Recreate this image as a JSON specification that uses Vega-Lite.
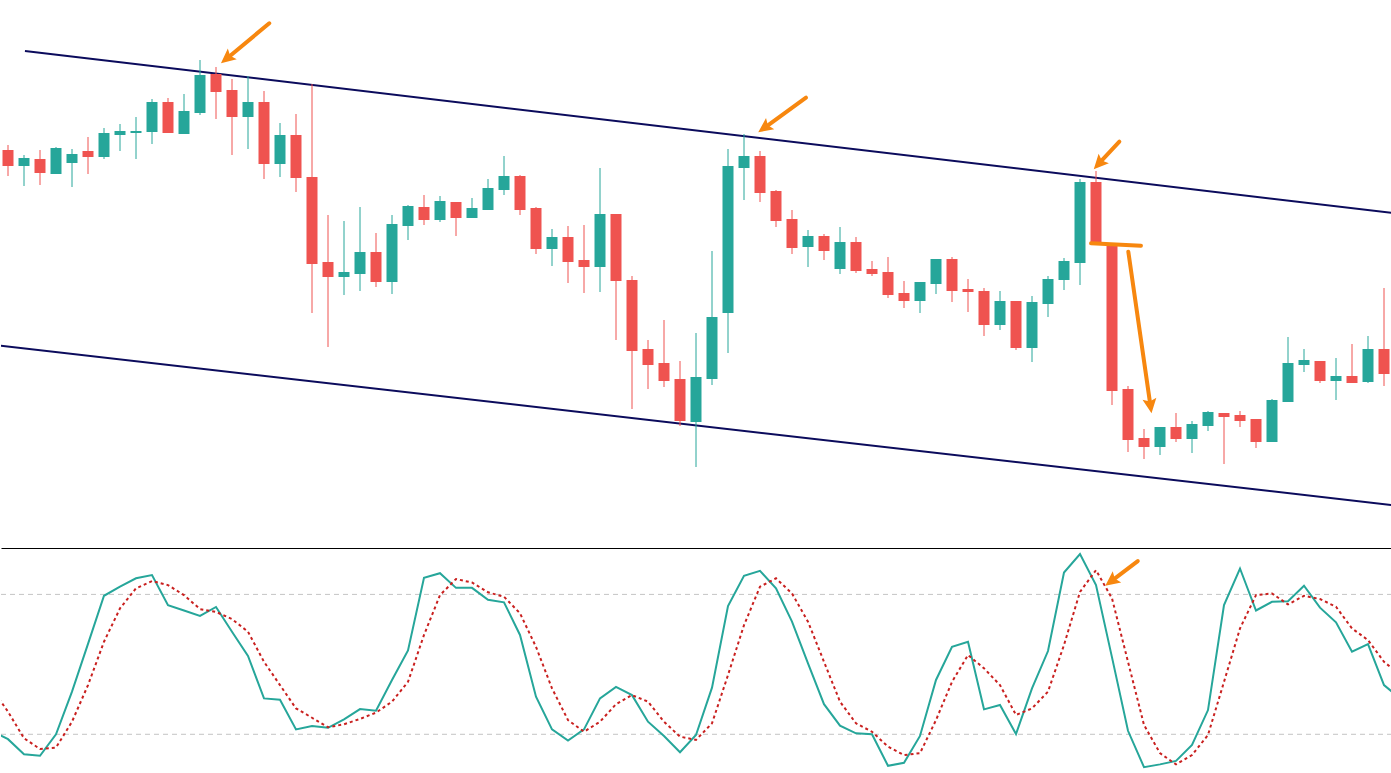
{
  "$schema": "https://vega.github.io/schema/vega-lite/v6.json",
  "description": "Descending channel with candlesticks and stochastic oscillator",
  "background": "white",
  "padding": 0,
  "spacing": 0,
  "config": {"view": {"stroke": null}},
  "datasets": {
    "candles": [
      {"i": 0, "open": 1.1850, "high": 1.1855, "low": 1.1824, "close": 1.1834},
      {"i": 1, "open": 1.1834, "high": 1.1845, "low": 1.1814, "close": 1.1842},
      {"i": 2, "open": 1.1841, "high": 1.1850, "low": 1.1815, "close": 1.1827},
      {"i": 3, "open": 1.1826, "high": 1.1853, "low": 1.1826, "close": 1.1852},
      {"i": 4, "open": 1.1837, "high": 1.1851, "low": 1.1813, "close": 1.1846},
      {"i": 5, "open": 1.1849, "high": 1.1863, "low": 1.1826, "close": 1.1843},
      {"i": 6, "open": 1.1843, "high": 1.1872, "low": 1.1841, "close": 1.1867},
      {"i": 7, "open": 1.1865, "high": 1.1876, "low": 1.1849, "close": 1.1869},
      {"i": 8, "open": 1.1867, "high": 1.1883, "low": 1.1841, "close": 1.1869},
      {"i": 9, "open": 1.1868, "high": 1.1901, "low": 1.1856, "close": 1.1898},
      {"i": 10, "open": 1.1898, "high": 1.1902, "low": 1.1867, "close": 1.1867},
      {"i": 11, "open": 1.1866, "high": 1.1906, "low": 1.1866, "close": 1.1889},
      {"i": 12, "open": 1.1887, "high": 1.1940, "low": 1.1885, "close": 1.1925},
      {"i": 13, "open": 1.1926, "high": 1.1933, "low": 1.1881, "close": 1.1908},
      {"i": 14, "open": 1.1910, "high": 1.1921, "low": 1.1845, "close": 1.1883},
      {"i": 15, "open": 1.1883, "high": 1.1924, "low": 1.1851, "close": 1.1898},
      {"i": 16, "open": 1.1898, "high": 1.1909, "low": 1.1821, "close": 1.1836},
      {"i": 17, "open": 1.1836, "high": 1.1877, "low": 1.1823, "close": 1.1865},
      {"i": 18, "open": 1.1865, "high": 1.1886, "low": 1.1808, "close": 1.1822},
      {"i": 19, "open": 1.1823, "high": 1.1916, "low": 1.1687, "close": 1.1736},
      {"i": 20, "open": 1.1738, "high": 1.1785, "low": 1.1653, "close": 1.1723},
      {"i": 21, "open": 1.1723, "high": 1.1779, "low": 1.1705, "close": 1.1728},
      {"i": 22, "open": 1.1726, "high": 1.1793, "low": 1.1709, "close": 1.1748},
      {"i": 23, "open": 1.1748, "high": 1.1767, "low": 1.1713, "close": 1.1718},
      {"i": 24, "open": 1.1718, "high": 1.1785, "low": 1.1706, "close": 1.1776},
      {"i": 25, "open": 1.1774, "high": 1.1795, "low": 1.1760, "close": 1.1794},
      {"i": 26, "open": 1.1793, "high": 1.1805, "low": 1.1775, "close": 1.1780},
      {"i": 27, "open": 1.1780, "high": 1.1804, "low": 1.1778, "close": 1.1799},
      {"i": 28, "open": 1.1798, "high": 1.1798, "low": 1.1764, "close": 1.1782},
      {"i": 29, "open": 1.1782, "high": 1.1802, "low": 1.1782, "close": 1.1792},
      {"i": 30, "open": 1.1790, "high": 1.1821, "low": 1.1790, "close": 1.1812},
      {"i": 31, "open": 1.1810, "high": 1.1844, "low": 1.1805, "close": 1.1824},
      {"i": 32, "open": 1.1824, "high": 1.1825, "low": 1.1785, "close": 1.1790},
      {"i": 33, "open": 1.1792, "high": 1.1793, "low": 1.1746, "close": 1.1751},
      {"i": 34, "open": 1.1751, "high": 1.1771, "low": 1.1734, "close": 1.1763},
      {"i": 35, "open": 1.1763, "high": 1.1774, "low": 1.1717, "close": 1.1738},
      {"i": 36, "open": 1.1740, "high": 1.1775, "low": 1.1707, "close": 1.1733},
      {"i": 37, "open": 1.1733, "high": 1.1832, "low": 1.1708, "close": 1.1786},
      {"i": 38, "open": 1.1786, "high": 1.1786, "low": 1.1660, "close": 1.1719},
      {"i": 39, "open": 1.1720, "high": 1.1724, "low": 1.1591, "close": 1.1649},
      {"i": 40, "open": 1.1651, "high": 1.1660, "low": 1.1611, "close": 1.1635},
      {"i": 41, "open": 1.1637, "high": 1.1680, "low": 1.1613, "close": 1.1619},
      {"i": 42, "open": 1.1621, "high": 1.1639, "low": 1.1574, "close": 1.1579},
      {"i": 43, "open": 1.1578, "high": 1.1667, "low": 1.1533, "close": 1.1623},
      {"i": 44, "open": 1.1621, "high": 1.1749, "low": 1.1615, "close": 1.1683},
      {"i": 45, "open": 1.1687, "high": 1.1851, "low": 1.1647, "close": 1.1834},
      {"i": 46, "open": 1.1832, "high": 1.1866, "low": 1.1800, "close": 1.1844},
      {"i": 47, "open": 1.1844, "high": 1.1849, "low": 1.1798, "close": 1.1807},
      {"i": 48, "open": 1.1809, "high": 1.1810, "low": 1.1773, "close": 1.1779},
      {"i": 49, "open": 1.1781, "high": 1.1790, "low": 1.1746, "close": 1.1752},
      {"i": 50, "open": 1.1753, "high": 1.1770, "low": 1.1733, "close": 1.1764},
      {"i": 51, "open": 1.1764, "high": 1.1766, "low": 1.1740, "close": 1.1749},
      {"i": 52, "open": 1.1731, "high": 1.1773, "low": 1.1726, "close": 1.1758},
      {"i": 53, "open": 1.1758, "high": 1.1763, "low": 1.1727, "close": 1.1729},
      {"i": 54, "open": 1.1731, "high": 1.1739, "low": 1.1724, "close": 1.1726},
      {"i": 55, "open": 1.1728, "high": 1.1743, "low": 1.1702, "close": 1.1705},
      {"i": 56, "open": 1.1707, "high": 1.1719, "low": 1.1692, "close": 1.1699},
      {"i": 57, "open": 1.1699, "high": 1.1718, "low": 1.1687, "close": 1.1718},
      {"i": 58, "open": 1.1716, "high": 1.1741, "low": 1.1706, "close": 1.1741},
      {"i": 59, "open": 1.1741, "high": 1.1743, "low": 1.1698, "close": 1.1709},
      {"i": 60, "open": 1.1711, "high": 1.1721, "low": 1.1688, "close": 1.1708},
      {"i": 61, "open": 1.1709, "high": 1.1712, "low": 1.1664, "close": 1.1675},
      {"i": 62, "open": 1.1675, "high": 1.1709, "low": 1.1670, "close": 1.1699},
      {"i": 63, "open": 1.1699, "high": 1.1699, "low": 1.1650, "close": 1.1652},
      {"i": 64, "open": 1.1652, "high": 1.1704, "low": 1.1638, "close": 1.1698},
      {"i": 65, "open": 1.1696, "high": 1.1724, "low": 1.1683, "close": 1.1721},
      {"i": 66, "open": 1.1720, "high": 1.1742, "low": 1.1710, "close": 1.1739},
      {"i": 67, "open": 1.1737, "high": 1.1821, "low": 1.1715, "close": 1.1818},
      {"i": 68, "open": 1.1818, "high": 1.1829, "low": 1.1758, "close": 1.1758},
      {"i": 69, "open": 1.1755, "high": 1.1755, "low": 1.1595, "close": 1.1609},
      {"i": 70, "open": 1.1611, "high": 1.1614, "low": 1.1548, "close": 1.1560},
      {"i": 71, "open": 1.1562, "high": 1.1571, "low": 1.1541, "close": 1.1553},
      {"i": 72, "open": 1.1553, "high": 1.1573, "low": 1.1545, "close": 1.1573},
      {"i": 73, "open": 1.1573, "high": 1.1587, "low": 1.1558, "close": 1.1561},
      {"i": 74, "open": 1.1561, "high": 1.1579, "low": 1.1547, "close": 1.1576},
      {"i": 75, "open": 1.1574, "high": 1.1589, "low": 1.1569, "close": 1.1588},
      {"i": 76, "open": 1.1587, "high": 1.1587, "low": 1.1536, "close": 1.1583},
      {"i": 77, "open": 1.1585, "high": 1.1589, "low": 1.1573, "close": 1.1579},
      {"i": 78, "open": 1.1581, "high": 1.1581, "low": 1.1552, "close": 1.1558},
      {"i": 79, "open": 1.1558, "high": 1.1601, "low": 1.1558, "close": 1.1600},
      {"i": 80, "open": 1.1598, "high": 1.1663, "low": 1.1598, "close": 1.1637},
      {"i": 81, "open": 1.1635, "high": 1.1651, "low": 1.1628, "close": 1.1640},
      {"i": 82, "open": 1.1639, "high": 1.1639, "low": 1.1617, "close": 1.1619},
      {"i": 83, "open": 1.1619, "high": 1.1642, "low": 1.1600, "close": 1.1624},
      {"i": 84, "open": 1.1624, "high": 1.1656, "low": 1.1617, "close": 1.1617},
      {"i": 85, "open": 1.1618, "high": 1.1664, "low": 1.1617, "close": 1.1651},
      {"i": 86, "open": 1.1651, "high": 1.1712, "low": 1.1614, "close": 1.1626}
    ],
    "channel": [
      {"line": "upper", "i": 1.06, "p": 1.1949},
      {"line": "upper", "i": 87, "p": 1.17862},
      {"line": "lower", "i": -1, "p": 1.16553},
      {"line": "lower", "i": 87, "p": 1.1494}
    ],
    "arrows": [
      {"id": "a1", "i": 16.33, "p": 1.19767},
      {"id": "a1", "i": 13.70, "p": 1.19418},
      {"id": "a2", "i": 49.875, "p": 1.19023},
      {"id": "a2", "i": 47.30, "p": 1.18724},
      {"id": "a3", "i": 69.46, "p": 1.18583},
      {"id": "a3", "i": 68.19, "p": 1.18366},
      {"id": "a5", "i": 70.02, "p": 1.17483},
      {"id": "a5", "i": 71.40, "p": 1.15946}
    ],
    "breakLine": [
      {"i": 67.69, "p": 1.17567},
      {"i": 70.81, "p": 1.17543}
    ],
    "heads": [
      {"id": "a1", "i": 13.31, "p": 1.19367},
      {"id": "a2", "i": 46.89, "p": 1.18677},
      {"id": "a3", "i": 67.86, "p": 1.18307},
      {"id": "a5", "i": 71.47, "p": 1.15867}
    ],
    "stoch": [
      {"i": -1, "k": 21.4, "d": 39.5},
      {"i": 0, "k": 17.9, "d": 29.7},
      {"i": 1, "k": 11.4, "d": 18.3},
      {"i": 2, "k": 10.8, "d": 13.7},
      {"i": 3, "k": 20.0, "d": 14.3},
      {"i": 4, "k": 38.3, "d": 25.4},
      {"i": 5, "k": 58.8, "d": 41.1},
      {"i": 6, "k": 79.4, "d": 59.7},
      {"i": 7, "k": 83.3, "d": 74.0},
      {"i": 8, "k": 86.9, "d": 82.6},
      {"i": 9, "k": 88.3, "d": 85.7},
      {"i": 10, "k": 75.4, "d": 84.0},
      {"i": 11, "k": 73.1, "d": 79.7},
      {"i": 12, "k": 70.8, "d": 73.7},
      {"i": 13, "k": 74.6, "d": 72.5},
      {"i": 14, "k": 64.0, "d": 69.4},
      {"i": 15, "k": 53.6, "d": 64.0},
      {"i": 16, "k": 35.4, "d": 51.1},
      {"i": 17, "k": 34.8, "d": 41.1},
      {"i": 18, "k": 22.1, "d": 31.1},
      {"i": 19, "k": 23.6, "d": 27.1},
      {"i": 20, "k": 22.8, "d": 23.0},
      {"i": 21, "k": 26.4, "d": 24.3},
      {"i": 22, "k": 30.8, "d": 26.6},
      {"i": 23, "k": 30.1, "d": 29.3},
      {"i": 24, "k": 43.3, "d": 34.0},
      {"i": 25, "k": 56.0, "d": 42.5},
      {"i": 26, "k": 87.1, "d": 62.6},
      {"i": 27, "k": 89.1, "d": 79.7},
      {"i": 28, "k": 82.8, "d": 86.6},
      {"i": 29, "k": 82.8, "d": 85.1},
      {"i": 30, "k": 77.7, "d": 80.9},
      {"i": 31, "k": 76.6, "d": 79.0},
      {"i": 32, "k": 62.6, "d": 71.9},
      {"i": 33, "k": 36.1, "d": 57.5},
      {"i": 34, "k": 22.1, "d": 39.7},
      {"i": 35, "k": 17.3, "d": 26.1},
      {"i": 36, "k": 22.1, "d": 21.1},
      {"i": 37, "k": 35.4, "d": 25.4},
      {"i": 38, "k": 40.3, "d": 32.9},
      {"i": 39, "k": 36.8, "d": 36.8},
      {"i": 40, "k": 25.4, "d": 34.0},
      {"i": 41, "k": 19.3, "d": 25.4},
      {"i": 42, "k": 12.3, "d": 19.0},
      {"i": 43, "k": 19.7, "d": 17.6},
      {"i": 44, "k": 40.0, "d": 24.7},
      {"i": 45, "k": 75.0, "d": 45.4},
      {"i": 46, "k": 88.0, "d": 66.8},
      {"i": 47, "k": 90.1, "d": 83.3},
      {"i": 48, "k": 82.6, "d": 86.9},
      {"i": 49, "k": 68.3, "d": 80.4},
      {"i": 50, "k": 50.4, "d": 68.3},
      {"i": 51, "k": 32.9, "d": 51.1},
      {"i": 52, "k": 23.7, "d": 34.0},
      {"i": 53, "k": 20.4, "d": 24.7},
      {"i": 54, "k": 20.0, "d": 21.1},
      {"i": 55, "k": 6.5, "d": 14.7},
      {"i": 56, "k": 7.8, "d": 11.1},
      {"i": 57, "k": 19.3, "d": 11.9},
      {"i": 58, "k": 43.3, "d": 26.1},
      {"i": 59, "k": 57.5, "d": 42.5},
      {"i": 60, "k": 59.7, "d": 54.0},
      {"i": 61, "k": 30.7, "d": 48.3},
      {"i": 62, "k": 32.6, "d": 41.1},
      {"i": 63, "k": 20.1, "d": 28.3},
      {"i": 64, "k": 39.7, "d": 31.1},
      {"i": 65, "k": 55.7, "d": 38.3},
      {"i": 66, "k": 89.4, "d": 58.3},
      {"i": 67, "k": 97.3, "d": 81.1},
      {"i": 68, "k": 84.0, "d": 90.4},
      {"i": 69, "k": 53.0, "d": 78.3},
      {"i": 70, "k": 21.5, "d": 51.1},
      {"i": 71, "k": 5.9, "d": 24.0},
      {"i": 72, "k": 7.1, "d": 11.9},
      {"i": 73, "k": 8.6, "d": 7.1},
      {"i": 74, "k": 15.4, "d": 11.1},
      {"i": 75, "k": 30.4, "d": 19.7},
      {"i": 76, "k": 75.4, "d": 42.5},
      {"i": 77, "k": 91.1, "d": 65.4},
      {"i": 78, "k": 73.1, "d": 79.7},
      {"i": 79, "k": 76.8, "d": 80.4},
      {"i": 80, "k": 77.1, "d": 75.7},
      {"i": 81, "k": 83.7, "d": 79.4},
      {"i": 82, "k": 74.3, "d": 78.0},
      {"i": 83, "k": 68.0, "d": 74.7},
      {"i": 84, "k": 55.4, "d": 65.4},
      {"i": 85, "k": 58.7, "d": 60.4},
      {"i": 86, "k": 41.1, "d": 51.1},
      {"i": 87, "k": 35.4, "d": 45.5}
    ],
    "levels": [{"lvl": 80}, {"lvl": 20}],
    "stochArrow": [
      {"i": 70.61, "v": 94.3},
      {"i": 68.98, "v": 85.8}
    ],
    "stochHead": [{"i": 68.58, "v": 83.7}]
  },
  "vconcat": [
    {
      "width": 1391,
      "height": 548,
      "layer": [
        {
          "data": {"name": "channel"},
          "mark": {"type": "line", "color": "#0b0b5c", "strokeWidth": 2, "clip": true},
          "encoding": {
            "x": {"field": "i", "type": "quantitative", "scale": {"domain": [-0.4375, 86.5], "nice": false, "zero": false, "padding": 0},
                  "axis": {"orient": "bottom", "domain": true, "domainColor": "#000000", "domainWidth": 1.2, "labels": false, "ticks": false, "grid": false, "title": null}},
            "y": {"field": "p", "type": "quantitative", "scale": {"domain": [1.1452, 1.2], "nice": false, "zero": false, "padding": 0}, "axis": null},
            "detail": {"field": "line"}
          }
        },
        {
          "data": {"name": "candles"},
          "mark": {"type": "rule", "strokeWidth": 1},
          "encoding": {
            "x": {"field": "i", "type": "quantitative"},
            "y": {"field": "low", "type": "quantitative"},
            "y2": {"field": "high"},
            "color": {"condition": {"test": "datum.open < datum.close", "value": "#26a69a"}, "value": "#ef5350"}
          }
        },
        {
          "data": {"name": "candles"},
          "mark": {"type": "bar", "width": 11},
          "encoding": {
            "x": {"field": "i", "type": "quantitative"},
            "y": {"field": "open", "type": "quantitative"},
            "y2": {"field": "close"},
            "color": {"condition": {"test": "datum.open < datum.close", "value": "#26a69a"}, "value": "#ef5350"}
          }
        },
        {
          "data": {"name": "arrows"},
          "mark": {"type": "line", "color": "#f7870f", "strokeWidth": 4, "strokeCap": "round"},
          "encoding": {
            "x": {"field": "i", "type": "quantitative"},
            "y": {"field": "p", "type": "quantitative"},
            "detail": {"field": "id"}
          }
        },
        {
          "data": {"name": "breakLine"},
          "mark": {"type": "line", "color": "#f7870f", "strokeWidth": 4, "strokeCap": "round"},
          "encoding": {
            "x": {"field": "i", "type": "quantitative"},
            "y": {"field": "p", "type": "quantitative"}
          }
        },
        {
          "data": {"name": "heads"},
          "transform": [{"filter": "datum.id == 'a1'"}],
          "mark": {"type": "point", "shape": "M0,0L1,2.1L0,1.7L-1,2.1Z", "filled": true, "opacity": 1, "color": "#f7870f", "size": 196, "angle": 230.4},
          "encoding": {"x": {"field": "i", "type": "quantitative"}, "y": {"field": "p", "type": "quantitative"}}
        },
        {
          "data": {"name": "heads"},
          "transform": [{"filter": "datum.id == 'a2'"}],
          "mark": {"type": "point", "shape": "M0,0L1,2.1L0,1.7L-1,2.1Z", "filled": true, "opacity": 1, "color": "#f7870f", "size": 196, "angle": 234.0},
          "encoding": {"x": {"field": "i", "type": "quantitative"}, "y": {"field": "p", "type": "quantitative"}}
        },
        {
          "data": {"name": "heads"},
          "transform": [{"filter": "datum.id == 'a3'"}],
          "mark": {"type": "point", "shape": "M0,0L1,2.1L0,1.7L-1,2.1Z", "filled": true, "opacity": 1, "color": "#f7870f", "size": 196, "angle": 222.8},
          "encoding": {"x": {"field": "i", "type": "quantitative"}, "y": {"field": "p", "type": "quantitative"}}
        },
        {
          "data": {"name": "heads"},
          "transform": [{"filter": "datum.id == 'a5'"}],
          "mark": {"type": "point", "shape": "M0,0L1,2.1L0,1.7L-1,2.1Z", "filled": true, "opacity": 1, "color": "#f7870f", "size": 196, "angle": 171.8},
          "encoding": {"x": {"field": "i", "type": "quantitative"}, "y": {"field": "p", "type": "quantitative"}}
        }
      ]
    },
    {
      "width": 1391,
      "height": 225,
      "layer": [
        {
          "data": {"name": "levels"},
          "mark": {"type": "rule", "color": "#c4c4c4", "strokeWidth": 1, "strokeDash": [5, 4]},
          "encoding": {
            "y": {"field": "lvl", "type": "quantitative", "scale": {"domain": [3.4, 99.9], "nice": false, "zero": false}, "axis": null}
          }
        },
        {
          "data": {"name": "stoch"},
          "mark": {"type": "line", "color": "#26a69a", "strokeWidth": 2, "clip": true},
          "encoding": {
            "x": {"field": "i", "type": "quantitative", "scale": {"domain": [-0.4375, 86.5], "nice": false, "zero": false, "padding": 0}, "axis": null},
            "y": {"field": "k", "type": "quantitative"}
          }
        },
        {
          "data": {"name": "stoch"},
          "mark": {"type": "line", "color": "#c9201f", "strokeWidth": 2, "strokeDash": [3, 3], "clip": true},
          "encoding": {
            "x": {"field": "i", "type": "quantitative"},
            "y": {"field": "d", "type": "quantitative"}
          }
        },
        {
          "data": {"name": "stochArrow"},
          "mark": {"type": "line", "color": "#f7870f", "strokeWidth": 4, "strokeCap": "round"},
          "encoding": {
            "x": {"field": "i", "type": "quantitative"},
            "y": {"field": "v", "type": "quantitative"}
          }
        },
        {
          "data": {"name": "stochHead"},
          "mark": {"type": "point", "shape": "M0,0L1,2.1L0,1.7L-1,2.1Z", "filled": true, "opacity": 1, "color": "#f7870f", "size": 196, "angle": 232.7},
          "encoding": {"x": {"field": "i", "type": "quantitative"}, "y": {"field": "v", "type": "quantitative"}}
        }
      ]
    }
  ]
}
